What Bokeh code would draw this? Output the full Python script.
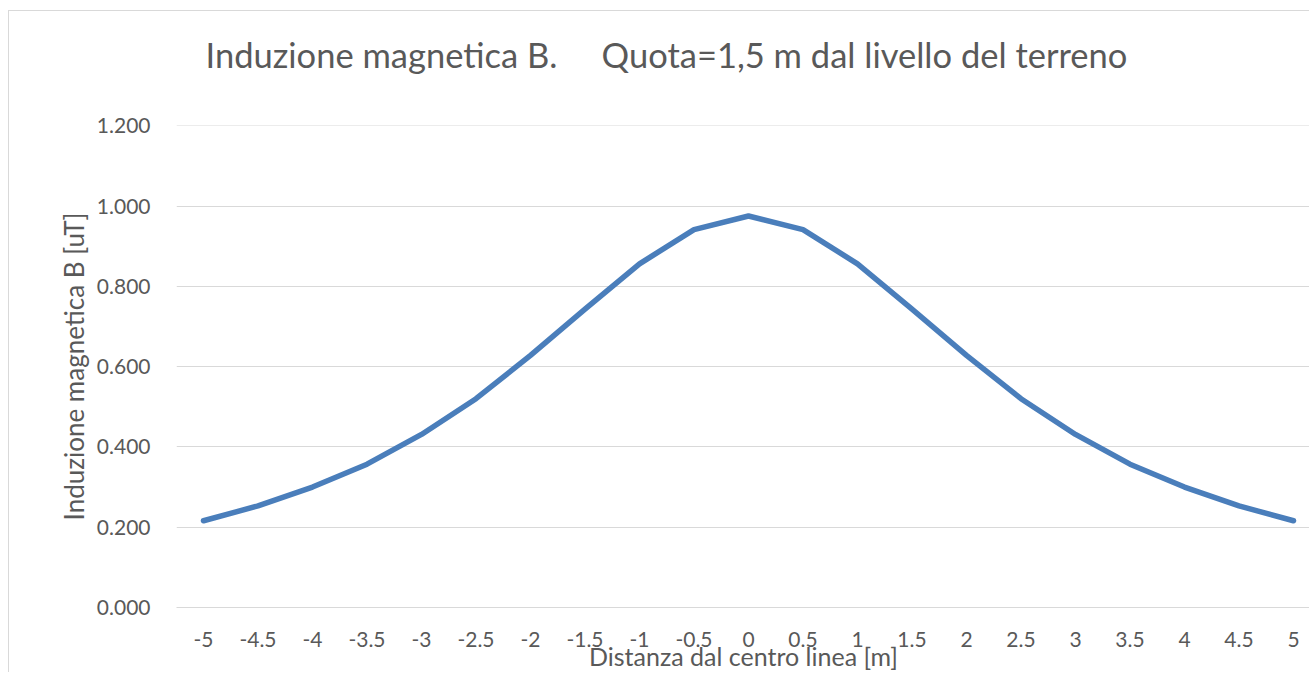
from bokeh.plotting import figure
from bokeh.models import Range1d, FixedTicker, InlineStyleSheet, Title
from bokeh.embed import file_html
from bokeh.resources import INLINE

# ---- data ----
x_vals = [-5, -4.5, -4, -3.5, -3, -2.5, -2, -1.5, -1, -0.5, 0,
          0.5, 1, 1.5, 2, 2.5, 3, 3.5, 4, 4.5, 5]
x_labels = ["-5", "-4.5", "-4", "-3.5", "-3", "-2.5", "-2", "-1.5", "-1", "-0.5", "0",
            "0.5", "1", "1.5", "2", "2.5", "3", "3.5", "4", "4.5", "5"]
b_vals = [0.216, 0.253, 0.300, 0.357, 0.431, 0.520, 0.628, 0.743, 0.856, 0.941, 0.975,
          0.941, 0.856, 0.743, 0.628, 0.520, 0.431, 0.357, 0.300, 0.253, 0.216]
y_ticks = [0.0, 0.2, 0.4, 0.6, 0.8, 1.0, 1.2]
y_tick_labels = ["0.000", "0.200", "0.400", "0.600", "0.800", "1.000", "1.200"]

NB = "\u00a0"
title_text = "Induzione magnetica B." + NB * 4 + " Quota=1,5 m dal livello del terreno"
x_title = "Distanza dal centro linea [m]"
y_title = "Induzione magnetica B [uT]"

FONT = "Lato"
TXT = "#595959"
GRID = "#d9d9d9"

p = figure(width=1301, height=662, output_backend="svg", toolbar_location=None,
           x_range=Range1d(-5.2477, 5.156), y_range=Range1d(0, 1.2005),
           min_border_left=167, min_border_right=0, min_border_top=114, min_border_bottom=66)
p.outline_line_color = None
p.background_fill_color = "white"
p.border_fill_color = "white"

p.stylesheets = [InlineStyleSheet(css=":host { vertical-align: top; margin-left: 8px; margin-top: 10px; border-left: 1px solid #d9d9d9; border-top: 1px solid #d9d9d9; }")]

p.line(x_vals, b_vals, line_color="#4a7ebb", line_width=5.5, line_join="round", line_cap="round")

# title: a thin spacer next to the frame, then the chart title above it
p.title = None
p.add_layout(Title(text=" ", text_font_size="2px", standoff=47), "above")
p.add_layout(Title(text=title_text, text_font=FONT, text_font_size="34.5px",
                   text_font_style="normal", text_color=TXT, align="left",
                   offset=29, standoff=0, vertical_align="bottom"), "above")

# axes
p.xaxis.ticker = FixedTicker(ticks=x_vals)
p.xaxis.major_label_overrides = {v: l for v, l in zip(x_vals, x_labels)}
p.xaxis.major_tick_line_color = None
p.xaxis.minor_tick_line_color = None
p.xaxis.axis_line_color = GRID
p.xaxis.major_label_standoff = 18
p.xaxis.major_label_text_font = FONT
p.xaxis.major_label_text_font_size = "21px"
p.xaxis.major_label_text_color = TXT
p.xaxis.axis_label = x_title
p.xaxis.axis_label_text_font = FONT
p.xaxis.axis_label_text_font_size = "25px"
p.xaxis.axis_label_text_font_style = "normal"
p.xaxis.axis_label_text_color = TXT
p.xaxis.axis_label_standoff = -9

p.yaxis.ticker = FixedTicker(ticks=y_ticks)
p.yaxis.major_label_overrides = {v: l for v, l in zip(y_ticks, y_tick_labels)}
p.yaxis.major_tick_line_color = None
p.yaxis.minor_tick_line_color = None
p.yaxis.axis_line_color = None
p.yaxis.major_label_standoff = 20
p.yaxis.major_label_text_font = FONT
p.yaxis.major_label_text_font_size = "21px"
p.yaxis.major_label_text_color = TXT
p.yaxis.axis_label = y_title
p.yaxis.axis_label_text_font = FONT
p.yaxis.axis_label_text_font_size = "26px"
p.yaxis.axis_label_text_font_style = "normal"
p.yaxis.axis_label_text_color = TXT
p.yaxis.axis_label_standoff = 4

p.xgrid.grid_line_color = None
p.ygrid.ticker = FixedTicker(ticks=y_ticks)
p.ygrid.grid_line_color = GRID
p.ygrid.grid_line_width = 1

open("out.html", "w").write(file_html(p, INLINE))
